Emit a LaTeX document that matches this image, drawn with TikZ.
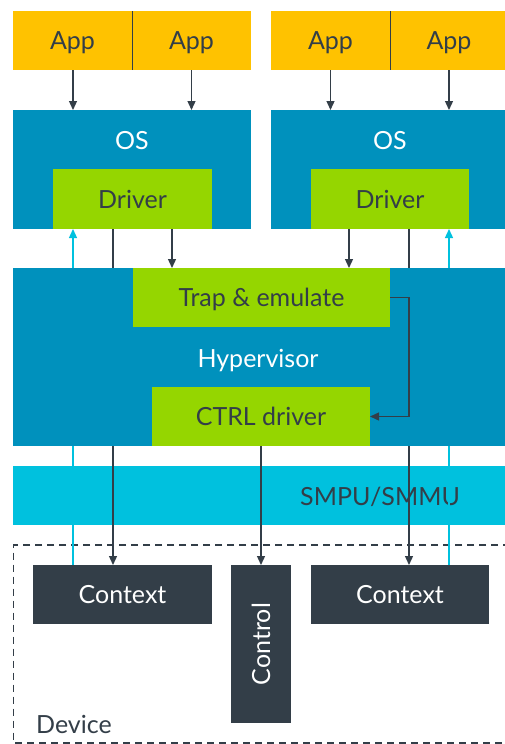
\documentclass[tikz,border=0pt]{standalone}
\usepackage{fontspec}
\setmainfont{Lato}
\usetikzlibrary{arrows.meta,calc}
\definecolor{appc}{HTML}{FFC200}
\definecolor{osc}{HTML}{0091BD}
\definecolor{grn}{HTML}{95D600}
\definecolor{drk}{HTML}{333E48}
\definecolor{smc}{HTML}{00C1DE}
\begin{document}
\begin{tikzpicture}[x=1pt,y=-1pt,
  every node/.style={font=\fontsize{25}{30}\selectfont, text height=18pt, text depth=0pt},
  box/.style={inner sep=0pt, outer sep=0pt, anchor=north west, draw=none},
  appbox/.style={box, fill=appc, text=drk, minimum height=59pt},
  osbox/.style={box, fill=osc, minimum height=119pt},
  grnbox/.style={box, fill=grn, text=drk},
  ctxbox/.style={box, fill=drk, text=white},
  lbl/.style={inner sep=0pt},
  arr/.style={draw=drk, line width=1.3pt, -{Triangle[width=8pt,length=9pt]}},
  ln/.style={draw=drk, line width=1.3pt},
  carr/.style={draw=smc, line width=1.3pt, -{Triangle[width=8pt,length=9pt]}},
  cln/.style={draw=smc, line width=1.3pt}]
\useasboundingbox (0,0) rectangle (504,744);
\fill[white] (0,0) rectangle (504,744);

% x positions of vertical connectors
\coordinate (xa) at (73,0);
\coordinate (xb) at (113,0);
\coordinate (xc) at (172,0);
\coordinate (xd) at (261,0);
\coordinate (xe) at (349,0);
\coordinate (xf) at (409,0);
\coordinate (xg) at (449,0);

% Apps
\node[appbox, minimum width=119pt] (app1) at (13,11) {App};
\node[appbox, minimum width=119pt] (app2) at (132,11) {App};
\node[appbox, minimum width=119pt] (app3) at (271,11) {App};
\node[appbox, minimum width=118pt] (app4) at (390,11) {App};
\draw[drk, line width=1pt] (app1.north east) -- (app1.south east);
\draw[drk, line width=1pt] (app3.north east) -- (app3.south east);

% OS
\node[osbox, minimum width=238pt] (os1) at (13,110) {};
\node[osbox, minimum width=240pt] (os2) at (271,110) {};
\node[lbl, text=white] (os1t) at (132,140) {OS};
\node[lbl, text=white] (os2t) at (390,140) {OS};
\node[grnbox, minimum width=159pt, minimum height=60pt] (drv1) at (53,169) {Driver};
\node[grnbox, minimum width=158pt, minimum height=60pt] (drv2) at (311,169) {Driver};

% Hypervisor
\node[box, fill=osc, minimum width=500pt, minimum height=178pt] (hyp) at (13,268) {};
\node[lbl, text=white] (hypt) at (258,358) {Hypervisor};
\node[grnbox, minimum width=257pt, minimum height=59pt] (trap) at (133,268) {Trap \& emulate};
\node[grnbox, minimum width=218pt, minimum height=59pt] (ctrl) at (152,387) {CTRL driver};

% SMPU
\node[box, fill=smc, minimum width=500pt, minimum height=59pt] (smmu) at (13,466) {};
\node[lbl, text=drk] (smmut) at (380,496.5) {SMPU/SMMU};

% Device
\draw[drk, line width=1.3pt, dash pattern=on 7pt off 5pt] (510,545) -- (13.5,545) -- (13.5,743) -- (510,743);
\node[lbl, text=drk, anchor=west] (devt) at (36,724) {Device};
\node[ctxbox, minimum width=179pt, minimum height=59pt] (ctx1) at (33,565) {Context};
\node[ctxbox, minimum width=60pt, minimum height=158pt] (ctl) at (231,565) {};
\node[lbl, text=white, rotate=90] (ctlt) at (ctl.center) {Control};
\node[ctxbox, minimum width=178pt, minimum height=59pt] (ctx2) at (311,565) {Context};

% App -> OS arrows
\draw[arr] (app1.south -| xa) -- (os1.north -| xa);
\draw[arr] (app2.south -| app2.center) -- (os1.north -| app2.center);
\draw[arr] (app3.south -| app3.center) -- (os2.north -| app3.center);
\draw[arr] (app4.south -| xg) -- (os2.north -| xg);

% Driver -> Trap
\draw[arr] (drv1.south -| xc) -- (trap.north -| xc);
\draw[arr] (drv2.south -| xe) -- (trap.north -| xe);

% Driver -> Context (dark), segments above and below hypervisor
\draw[ln] (drv1.south -| xb) -- (hyp.north -| xb);
\draw[arr] (hyp.south -| xb) -- (ctx1.north -| xb);
\draw[ln] (drv2.south -| xf) -- (hyp.north -| xf);
\draw[arr] (hyp.south -| xf) -- (ctx2.north -| xf);

% CTRL driver -> Control
\draw[arr] (ctrl.south -| xd) -- (ctl.north -| xd);

% Context -> Driver (cyan)
\draw[cln] (ctx1.north -| xa) -- (hyp.south -| xa);
\draw[carr] (hyp.north -| xa) -- (drv1.south -| xa);
\draw[cln] (ctx2.north -| xg) -- (hyp.south -| xg);
\draw[carr] (hyp.north -| xg) -- (drv2.south -| xg);

% Trap -> CTRL
\draw[arr] (trap.east) -| (xf |- hypt) |- (ctrl.east);
\end{tikzpicture}
\end{document}
